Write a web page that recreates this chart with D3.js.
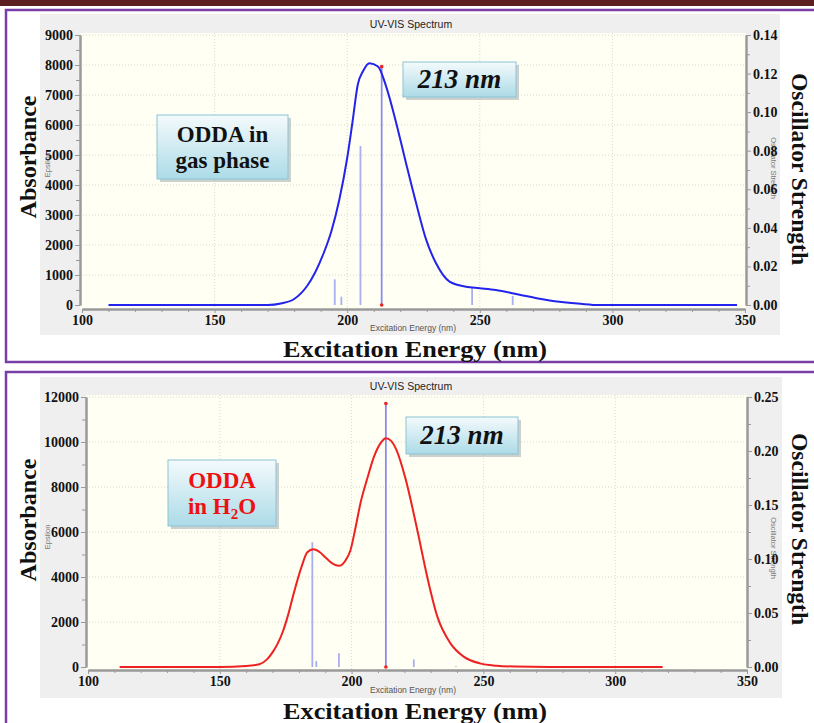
<!DOCTYPE html>
<html>
<head>
<meta charset="utf-8">
<script src="https://cdn.jsdelivr.net/npm/d3@7"></script>
<style>
  body { margin: 0; background: #fff; }
  svg { display: block; }
</style>
</head>
<body>
<div id="chart"></div>
<script>
// ---- data ----
// gas phase: wavelength (nm) vs epsilon
var gasNm  = [110, 150, 170, 175, 180, 185, 188, 191, 194, 197, 200, 202, 204, 206, 208.4, 211.6, 214.7, 218.5, 222.2, 226, 229.8, 233.5, 238.6, 244.8, 250, 256, 265, 272, 280, 288, 295, 347];
var gasEps = [0, 0, 0, 50, 200, 650, 1100, 1700, 2450, 3500, 4900, 6100, 7350, 7800, 8060, 7950, 7280, 6060, 4720, 3390, 2170, 1390, 780, 610, 560, 500, 340, 220, 110, 40, 0, 0];
var gasStickNm = [195.3, 197.8, 205.0, 213, 247.1, 262.4];
var gasStickF  = [0.0133, 0.0043, 0.0824, 0.1236, 0.0092, 0.0047];

// water: wavelength (nm) vs epsilon
var h2oNm  = [112, 150, 160, 165, 168, 170, 172, 174, 176, 178, 181, 183.2, 185.5, 188, 190, 193.5, 195.5, 197.5, 199.6, 201.5, 203.4, 206, 208.5, 211, 213, 215, 217, 220.5, 224.9, 228.7, 232.5, 237.5, 242.5, 249, 255, 262, 275, 318];
var h2oEps = [0, 0, 40, 120, 350, 650, 1050, 1600, 2350, 3250, 4450, 5100, 5230, 5100, 4880, 4550, 4500, 4700, 5200, 6200, 7300, 8400, 9350, 9950, 10170, 10050, 9650, 8350, 6100, 4000, 2250, 1050, 460, 150, 60, 20, 0, 0];
var h2oStickNm = [185.1, 186.6, 195.2, 213, 223.6, 239.6];
var h2oStickF  = [0.1155, 0.0056, 0.0127, 0.244, 0.0071, 0.0006];

var xTicks = [100, 150, 200, 250, 300, 350];
var gasEpsTicks = [0, 1000, 2000, 3000, 4000, 5000, 6000, 7000, 8000, 9000];
var gasFTicks = [0, 0.02, 0.04, 0.06, 0.08, 0.10, 0.12, 0.14];
var h2oEpsTicks = [0, 2000, 4000, 6000, 8000, 10000, 12000];
var h2oFTicks = [0, 0.05, 0.10, 0.15, 0.20, 0.25];
var peakNm = 213;

var W = 814, H = 723;
var serif = "'Liberation Serif','Times New Roman',serif";
var sans = "'Liberation Sans',Arial,sans-serif";

var svg = d3.select("#chart").append("svg")
  .attr("width", W).attr("height", H);

var defs = svg.append("defs");
var grad = defs.append("linearGradient").attr("id", "boxfill")
  .attr("x1", 0).attr("y1", 0).attr("x2", 0).attr("y2", 1);
grad.append("stop").attr("offset", "0%").attr("stop-color", "#f4fafc");
grad.append("stop").attr("offset", "100%").attr("stop-color", "#acdbe7");

// page frame
svg.append("rect").attr("x", 0).attr("y", 0).attr("width", W).attr("height", 6).attr("fill", "#5e1f23");
svg.append("rect").attr("x", 6).attr("y", 10).attr("width", W + 10).attr("height", 352)
  .attr("fill", "none").attr("stroke", "#7a3fa6").attr("stroke-width", 2.5);
svg.append("rect").attr("x", 6).attr("y", 372).attr("width", W + 10).attr("height", 370)
  .attr("fill", "none").attr("stroke", "#7a3fa6").attr("stroke-width", 2.5);

function noteBox(g, x, y, w, h, lines, color, italic, size, gap) {
  g.append("rect").attr("x", x + 3).attr("y", y + 3).attr("width", w).attr("height", h)
    .attr("fill", "#9aa4a8").attr("opacity", 0.5);
  g.append("rect").attr("x", x).attr("y", y).attr("width", w).attr("height", h)
    .attr("fill", "url(#boxfill)").attr("stroke", "#8cc4d4").attr("stroke-width", 1);
  var t = g.append("text").attr("text-anchor", "middle")
    .attr("font-family", serif).attr("font-weight", "bold")
    .attr("font-style", italic ? "italic" : "normal")
    .attr("font-size", size).attr("fill", color);
  lines.forEach(function (ln, i) {
    var ts = t.append("tspan").attr("x", x + w / 2)
      .attr("y", y + h / 2 + (i - (lines.length - 1) / 2) * gap + size * 0.33);
    if (typeof ln === "string") ts.text(ln);
    else ln(ts);
  });
}

function drawPanel(o) {
  var g = svg.append("g");
  // grey panel
  g.append("rect").attr("x", o.panel[0]).attr("y", o.panel[1])
    .attr("width", o.panel[2]).attr("height", o.panel[3]).attr("fill", "#efefef");
  g.append("text").attr("x", 411).attr("y", o.titleY).attr("text-anchor", "middle")
    .attr("font-family", sans).attr("font-size", 10.5).attr("fill", "#222")
    .text("UV-VIS Spectrum");
  // plot area
  g.append("rect").attr("x", o.plot[0]).attr("y", o.plot[1])
    .attr("width", o.plot[2]).attr("height", o.plot[3]).attr("fill", "#fffff4");

  var x = d3.scaleLinear().domain([100, 350]).range(o.xRange);
  var y = d3.scaleLinear().domain([0, o.epsMax]).range(o.yRange);
  var f = d3.scaleLinear().domain([0, o.fMax]).range(o.yRange);
  var left = o.plot[0], right = o.plot[0] + o.plot[2];
  var top = o.plot[1], bottom = o.plot[1] + o.plot[3];

  // grid
  g.append("g").selectAll("line").data(xTicks.slice(1, -1)).enter().append("line")
    .attr("x1", d => x(d)).attr("x2", d => x(d)).attr("y1", top).attr("y2", bottom)
    .attr("stroke", "#d8d8d0").attr("stroke-dasharray", "1,2");
  g.append("g").selectAll("line").data(o.epsTicks.slice(1)).enter().append("line")
    .attr("x1", left).attr("x2", right).attr("y1", d => y(d)).attr("y2", d => y(d))
    .attr("stroke", "#d8d8d0").attr("stroke-dasharray", "1,2");

  // small built-in labels
  g.append("text").attr("x", 413).attr("y", o.smallXY).attr("text-anchor", "middle")
    .attr("font-family", sans).attr("font-size", 8.5).attr("fill", "#555")
    .text("Excitation Energy (nm)");
  g.append("text").attr("transform", "translate(50," + o.smallEpsY + ") rotate(-90)")
    .attr("text-anchor", "middle").attr("font-family", sans).attr("font-size", 7.5).attr("fill", "#777")
    .text("Epsilon");
  g.append("text").attr("transform", "translate(771," + o.smallFY + ") rotate(90)")
    .attr("text-anchor", "middle").attr("font-family", sans).attr("font-size", 7.5).attr("fill", "#777")
    .text("Oscillator Strength");

  // axes
  function styleAxis(sel) {
    sel.select(".domain").attr("stroke", "#9a9a9a").attr("stroke-width", 2);
    sel.selectAll(".tick line").attr("stroke", "#9a9a9a");
    sel.selectAll(".tick text").attr("font-family", serif).attr("font-weight", "bold")
      .attr("font-size", 14).attr("fill", "#111");
  }
  var minorX = d3.range(110, 350, 10).filter(d => xTicks.indexOf(d) < 0);
  g.append("g").attr("transform", "translate(0," + bottom + ")")
    .call(d3.axisBottom(x).tickValues(minorX).tickFormat("").tickSize(3).tickSizeOuter(0))
    .call(styleAxis);
  g.append("g").attr("transform", "translate(0," + bottom + ")")
    .call(d3.axisBottom(x).tickValues(xTicks).tickFormat(d3.format("d")).tickSize(4).tickSizeOuter(0).tickPadding(2))
    .call(styleAxis);

  var epsStep = o.epsTicks[1] - o.epsTicks[0];
  var minorEps = o.epsTicks.slice(0, -1).map(d => d + epsStep / 2);
  g.append("g").attr("transform", "translate(" + left + ",0)")
    .call(d3.axisLeft(y).tickValues(minorEps).tickFormat("").tickSize(4).tickSizeOuter(0))
    .call(styleAxis);
  g.append("g").attr("transform", "translate(" + left + ",0)")
    .call(d3.axisLeft(y).tickValues(o.epsTicks).tickFormat(d3.format("d")).tickSize(5).tickSizeOuter(0).tickPadding(2))
    .call(styleAxis);
  var fStep = o.fTicks[1] - o.fTicks[0];
  var minorF = o.fTicks.slice(0, -1).map(d => d + fStep / 2);
  g.append("g").attr("transform", "translate(" + right + ",0)")
    .call(d3.axisRight(f).tickValues(minorF).tickFormat("").tickSize(4).tickSizeOuter(0))
    .call(styleAxis);
  g.append("g").attr("transform", "translate(" + right + ",0)")
    .call(d3.axisRight(f).tickValues(o.fTicks).tickFormat(d3.format(".2f")).tickSize(5).tickSizeOuter(0).tickPadding(2))
    .call(styleAxis);

  // oscillator sticks
  var sticks = o.stickNm.map((d, i) => ({ nm: d, f: o.stickF[i] }));
  g.append("g").selectAll("line").data(sticks).enter().append("line")
    .attr("x1", d => x(d.nm)).attr("x2", d => x(d.nm))
    .attr("y1", f(0)).attr("y2", d => f(d.f))
    .attr("stroke", d => d.nm === peakNm ? "#8c8cf0" : "#a8aef2")
    .attr("stroke-width", 1.8);

  // spectrum
  var pts = o.nm.map((d, i) => [d, o.eps[i]]);
  g.append("path").datum(pts)
    .attr("fill", "none").attr("stroke", o.color).attr("stroke-width", 2)
    .attr("d", d3.line().x(d => x(d[0])).y(d => y(d[1])).curve(d3.curveMonotoneX));

  // selected transition markers
  var pk = sticks.filter(d => d.nm === peakNm)[0];
  g.append("circle").attr("cx", x(pk.nm)).attr("cy", f(pk.f)).attr("r", 1.8).attr("fill", "#f02020");
  g.append("circle").attr("cx", x(pk.nm)).attr("cy", f(0)).attr("r", 1.8).attr("fill", "#f02020");

  // big outer titles
  g.append("text").attr("transform", "translate(36," + o.absY + ") rotate(-90)")
    .attr("text-anchor", "middle").attr("font-family", serif).attr("font-weight", "bold")
    .attr("font-size", 24).attr("fill", "#111")
    .attr("textLength", 123).attr("lengthAdjust", "spacingAndGlyphs").text("Absorbance");
  g.append("text").attr("transform", "translate(792," + o.oscY + ") rotate(90)")
    .attr("text-anchor", "middle").attr("font-family", serif).attr("font-weight", "bold")
    .attr("font-size", 24).attr("fill", "#111")
    .attr("textLength", 192).attr("lengthAdjust", "spacingAndGlyphs").text("Oscillator Strength");
  g.append("text").attr("x", 415).attr("y", o.bigXY).attr("text-anchor", "middle")
    .attr("font-family", serif).attr("font-weight", "bold")
    .attr("font-size", 24).attr("fill", "#111")
    .attr("textLength", 264).attr("lengthAdjust", "spacingAndGlyphs").text("Excitation Energy (nm)");

  // annotation boxes
  noteBox(g, o.nmBox[0], o.nmBox[1], o.nmBox[2], o.nmBox[3], [peakNm + " nm"], "#111", true, 27, 0);
  noteBox(g, o.nameBox[0], o.nameBox[1], o.nameBox[2], o.nameBox[3], o.nameLines, o.nameColor, false, 23, 26);
}

drawPanel({
  panel: [40, 14, 740, 321], titleY: 28,
  plot: [80, 33, 666, 276], xRange: [82, 745], yRange: [305, 35],
  epsMax: 9000, fMax: 0.14, epsTicks: gasEpsTicks, fTicks: gasFTicks,
  nm: gasNm, eps: gasEps, stickNm: gasStickNm, stickF: gasStickF, color: "#2323ee",
  smallXY: 331, smallEpsY: 165, smallFY: 168,
  absY: 157, oscY: 169, bigXY: 357,
  nmBox: [403, 62, 113, 35], nameBox: [157, 115, 131, 64],
  nameLines: ["ODDA in", "gas phase"], nameColor: "#111"
});

drawPanel({
  panel: [40, 377, 742, 321], titleY: 390,
  plot: [86, 395, 661, 275], xRange: [88, 747], yRange: [667, 397],
  epsMax: 12000, fMax: 0.25, epsTicks: h2oEpsTicks, fTicks: h2oFTicks,
  nm: h2oNm, eps: h2oEps, stickNm: h2oStickNm, stickF: h2oStickF, color: "#ee2222",
  smallXY: 693, smallEpsY: 537, smallFY: 548,
  absY: 520, oscY: 529, bigXY: 719,
  nmBox: [406, 417, 112, 37], nameBox: [168, 460, 108, 66],
  nameLines: ["ODDA", function (ts) {
    ts.text("in H");
    ts.append("tspan").attr("font-size", 15).attr("dy", 5).text("2");
    ts.append("tspan").attr("dy", -5).text("O");
  }], nameColor: "#ee1111"
});
</script>
</body>
</html>
